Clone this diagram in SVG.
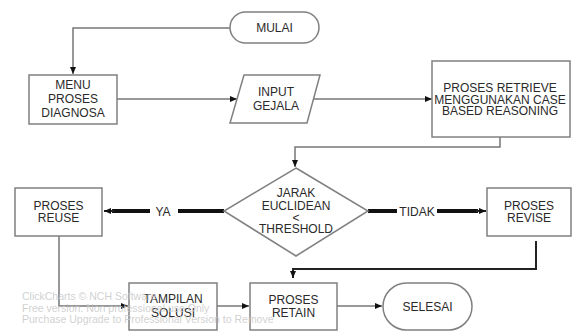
<svg xmlns="http://www.w3.org/2000/svg" width="572" height="332" viewBox="0 0 572 332">
<style>
.box{fill:#fff;stroke:#808080;stroke-width:1.5}
.t{font-family:"Liberation Sans",Arial,sans-serif;font-size:12px;fill:#2a2a2a;text-anchor:middle}
.ln{fill:none;stroke:#777;stroke-width:1.5}
.dk{fill:none;stroke:#222;stroke-width:2}
.thk{fill:none;stroke:#111;stroke-width:4}
.wm{font-family:"Liberation Sans",Arial,sans-serif;font-size:10.5px;fill:#c8c8c8;fill-opacity:0.85}
</style>
<defs>
<marker id="ah" markerUnits="userSpaceOnUse" markerWidth="8" markerHeight="8" refX="7" refY="4" orient="auto">
<path d="M0,1 L7,4 L0,7 Z" fill="#111"/>
</marker>
</defs>
<rect width="572" height="332" fill="#fff"/>
<g id="connectors">
<path class="ln" d="M230,28 H73 V74" marker-end="url(#ah)"/>
<path class="ln" d="M117,99 H237" marker-end="url(#ah)"/>
<path class="ln" d="M313.5,99 H432" marker-end="url(#ah)"/>
<path class="ln" d="M500,137 V147 H295 V167" marker-end="url(#ah)"/>
<path class="thk" d="M224,211 H178"/>
<path class="thk" d="M150,211 H112"/>
<path class="dk" d="M114,211 H104" marker-end="url(#ah)"/>
<path class="thk" d="M368,211 H397"/>
<path class="thk" d="M437,211 H478"/>
<path class="dk" d="M476,211 H486" marker-end="url(#ah)"/>
<path class="dk" d="M536,241 V269 H293 V278" marker-end="url(#ah)"/>
<path class="ln" d="M59,236 V306 H128" marker-end="url(#ah)"/>
<path class="ln" d="M217,306 H249" marker-end="url(#ah)"/>
<path class="ln" d="M337,306 H382" marker-end="url(#ah)"/>
<text class="t" x="163" y="215.5">YA</text>
<text class="t" x="417" y="215.5">TIDAK</text>
</g>
<g id="mulai">
<rect class="box" x="230" y="12" width="89" height="31" rx="15.5"/>
<text class="t" x="274.5" y="32">MULAI</text>
</g>
<g id="menu">
<rect class="box" x="29" y="75" width="88" height="49"/>
<text class="t" x="73" y="89">MENU</text>
<text class="t" x="73" y="103">PROSES</text>
<text class="t" x="73" y="117">DIAGNOSA</text>
</g>
<g id="input">
<polygon class="box" points="244,75 320,75 307,123 230,123"/>
<text class="t" x="276" y="95.5">INPUT</text>
<text class="t" x="276" y="110">GEJALA</text>
</g>
<g id="retrieve">
<rect class="box" x="432" y="61" width="138" height="76"/>
<text class="t" x="500" y="92">PROSES RETRIEVE</text>
<text class="t" x="500" y="103.5">MENGGUNAKAN CASE</text>
<text class="t" x="500" y="115">BASED REASONING</text>
</g>
<g id="decision">
<polygon class="box" points="296,168 368,211 296,256 224,211"/>
<text class="t" x="296" y="197">JARAK</text>
<text class="t" x="296" y="210">EUCLIDEAN</text>
<text class="t" x="296" y="222">&lt;</text>
<text class="t" x="296" y="233">THRESHOLD</text>
</g>
<g id="reuse">
<rect class="box" x="15" y="188" width="87" height="48"/>
<text class="t" x="58.5" y="210">PROSES</text>
<text class="t" x="58.5" y="222">REUSE</text>
</g>
<g id="revise">
<rect class="box" x="487" y="188" width="84" height="48"/>
<text class="t" x="529" y="210">PROSES</text>
<text class="t" x="529" y="222">REVISE</text>
</g>
<g id="tampilan">
<rect class="box" x="129" y="283" width="88" height="47"/>
<text class="t" x="173" y="303">TAMPILAN</text>
<text class="t" x="173" y="317">SOLUSI</text>
</g>
<g id="retain">
<rect class="box" x="250" y="283" width="87" height="47"/>
<text class="t" x="293.5" y="303.5">PROSES</text>
<text class="t" x="293.5" y="317">RETAIN</text>
</g>
<g id="selesai">
<rect class="box" x="383" y="283" width="89" height="47" rx="23.5"/>
<text class="t" x="427.5" y="310.5">SELESAI</text>
</g>
<g id="watermark">
<text class="wm" x="22" y="300">ClickCharts © NCH Software</text>
<text class="wm" x="22" y="311.5">Free version. Non professional use Only</text>
<text class="wm" x="22" y="323">Purchase Upgrade to Professional Version to Remove</text>
</g>
</svg>
